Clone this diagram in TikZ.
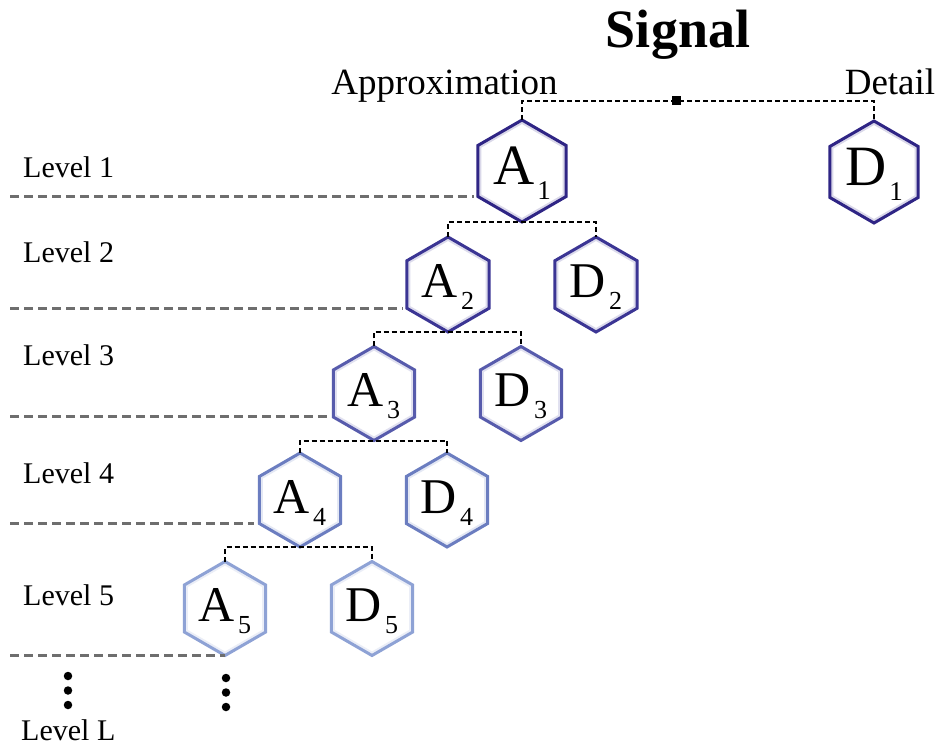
\documentclass[tikz,border=0pt]{standalone}
\usepackage{fontspec}
\setmainfont{Liberation Serif}
\usetikzlibrary{shapes.geometric,calc}
\definecolor{cA}{HTML}{2F2585}
\definecolor{cB}{HTML}{3B3594}
\definecolor{cC}{HTML}{575BAC}
\definecolor{cD}{HTML}{6B7DC0}
\definecolor{cE}{HTML}{8EA2D5}
\definecolor{lvgray}{HTML}{6E6E6E}
\newcommand{\biglab}[2]{\smash{\makebox[0pt]{\raisebox{-14pt}{\fontsize{57}{57}\selectfont #1\kern3pt\raisebox{-15pt}{\fontsize{27}{27}\selectfont #2}}}}}
\newcommand{\smlab}[2]{\smash{\makebox[0pt]{\raisebox{-13pt}{\fontsize{50}{50}\selectfont #1\kern3pt\raisebox{-12pt}{\fontsize{26}{26}\selectfont #2}}}}}
\tikzset{
  hexbox/.style 2 args={regular polygon, regular polygon sides=6, shape border rotate=30,
    draw=#1, line width=3pt, inner sep=0pt, outer sep=0pt, fill=white, minimum size=#2,
    path picture={\draw[#1!18, line width=7pt]
      (path picture bounding box.north)
      -- ($(path picture bounding box.north east)!0.25!(path picture bounding box.south east)$)
      -- ($(path picture bounding box.north east)!0.75!(path picture bounding box.south east)$)
      -- (path picture bounding box.south)
      -- ($(path picture bounding box.north west)!0.75!(path picture bounding box.south west)$)
      -- ($(path picture bounding box.north west)!0.25!(path picture bounding box.south west)$)
      -- cycle;}},
  conn/.style={draw=black, line width=2pt, dash pattern=on 5pt off 3pt},
  lvl/.style={draw=lvgray, line width=3pt, dash pattern=on 9pt off 5pt},
  lvltext/.style={anchor=base west, inner sep=0pt, font=\fontsize{30}{30}\selectfont},
  hdtext/.style={anchor=base, inner sep=0pt, font=\fontsize{37}{37}\selectfont},
  vdot/.style={circle, fill=black, inner sep=0pt, minimum size=8.5pt},
}
\begin{document}
\begin{tikzpicture}[x=1pt, y=-1pt]
\useasboundingbox (0,0) rectangle (943,746);
\fill[white] (0,0) rectangle (943,746);

% titles
\node[anchor=base, inner sep=0pt, font=\fontsize{54}{54}\selectfont\bfseries] (sig) at (678,48) {Signal};
\node[hdtext] (appr) at (444.5,95) {Approximation};
\node[hdtext] (det) at (890,95) {Detail};

% level labels
\node[lvltext] (lv1) at (23,178) {Level 1};
\node[lvltext] (lv2) at (23,263) {Level 2};
\node[lvltext] (lv3) at (23,365) {Level 3};
\node[lvltext] (lv4) at (23,483) {Level 4};
\node[lvltext] (lv5) at (23,605) {Level 5};
\node[lvltext] (lvL) at (21,740) {Level L};

% hexagons
\node[hexbox={cA}{102pt}] (A1) at (522,171) {\biglab{A}{1}};
\node[hexbox={cA}{102pt}] (D1) at (874,172) {\biglab{D}{1}};
\node[hexbox={cB}{95pt}] (A2) at (448,284.5) {\smlab{A}{2}};
\node[hexbox={cB}{95pt}] (D2) at (596,284.5) {\smlab{D}{2}};
\node[hexbox={cC}{94pt}] (A3) at (374,393.5) {\smlab{A}{3}};
\node[hexbox={cC}{94pt}] (D3) at (521,393.5) {\smlab{D}{3}};
\node[hexbox={cD}{94pt}] (A4) at (300,500) {\smlab{A}{4}};
\node[hexbox={cD}{94pt}] (D4) at (447,500) {\smlab{D}{4}};
\node[hexbox={cE}{94pt}] (A5) at (225,608.5) {\smlab{A}{5}};
\node[hexbox={cE}{94pt}] (D5) at (372,608.5) {\smlab{D}{5}};

% connectors
\coordinate (mid) at (676,101);
\draw[conn] (A1.north) |- (mid) -| (D1.north);
\node[fill=black, inner sep=0pt, minimum size=9pt] (sq) at (mid) {};
\draw[conn] (A2.north) |- (A1.south) -| (D2.north);
\draw[conn] (A3.north) |- (A2.south) -| (D3.north);
\draw[conn] (A4.north) |- (A3.south) -| (D4.north);
\draw[conn] (A5.north) |- (A4.south) -| (D5.north);

% level separators
\coordinate (W) at (10,0);
\draw[lvl, shorten >=4pt] (A1.210 -| W) -- (A1.210);
\draw[lvl, shorten >=4pt] (A2.210 -| W) -- (A2.210);
\draw[lvl, shorten >=6pt] (A3.210 -| W) -- (A3.210);
\draw[lvl, shorten >=5pt] (A4.210 -| W) -- (A4.210);
\draw[lvl] (A5.south -| W) -- (A5.south);

% dots
\node[vdot] (d1) at (68,676) {};
\node[vdot] (d2) at (68,690.5) {};
\node[vdot] (d3) at (68,705) {};
\node[vdot] (e1) at (226,678) {};
\node[vdot] (e2) at (226,692.5) {};
\node[vdot] (e3) at (226,707) {};
\end{tikzpicture}
\end{document}
